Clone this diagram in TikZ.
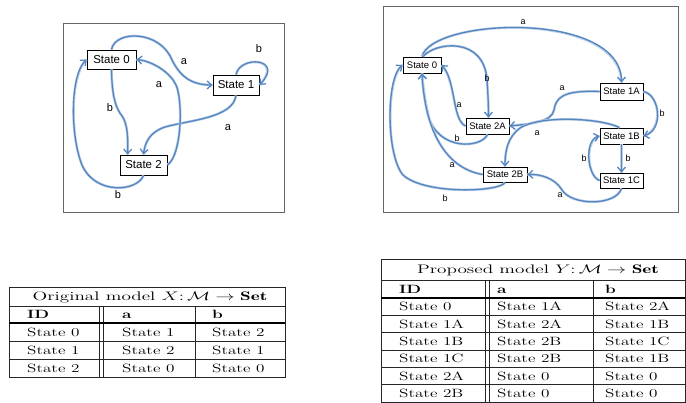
\documentclass[tikz,border=0pt]{standalone}
\usepackage{graphicx}
\usepackage{fontspec}
\newfontfamily\arialf{Liberation Sans}
\usetikzlibrary{arrows.meta}
\definecolor{edgeblue}{RGB}{84,134,194}
\definecolor{edgeglow}{RGB}{190,208,230}
\newcommand{\tbtx}[1]{\scalebox{1.43}[1]{#1}}
\newcommand{\tbcap}[1]{\scalebox{1.6}[1.03]{#1}}
\tikzset{
  st/.style={draw=black, line width=0.9pt, fill=white, inner sep=0pt},
  stl/.style={st, minimum width=48pt, minimum height=19pt, font=\arialf\fontsize{11.5}{12}\selectfont},
  str/.style={st, minimum width=43pt, minimum height=16pt, font=\arialf\fontsize{9.5}{11}\selectfont},
  edge/.style={draw=edgeblue, line width=1.3pt, -{Straight Barb[length=4.5pt,width=8pt]},
    preaction={draw=edgeglow, line width=2.6pt, -}},
  lbl/.style={font=\arialf\fontsize{11}{12}\selectfont, inner sep=0pt},
  lblr/.style={font=\arialf\fontsize{9}{10}\selectfont, inner sep=0pt},
  framebox/.style={draw=black!60, line width=1pt},
  tline/.style={draw=black!85, line width=0.7pt},
  thickline/.style={draw=black, line width=1.8pt},
  cell/.style={anchor=west, inner sep=0pt, text height=8.4pt, text depth=0pt, font=\fontsize{12}{14}\selectfont},
  capcell/.style={cell, anchor=center},
}
\begin{document}
\begin{tikzpicture}[x=1pt,y=-1pt]
\useasboundingbox (0,0) rectangle (686,403);
% ---------------- left diagram ----------------
\draw[framebox] (63,24) rectangle (284,213);
\node[stl, minimum width=49pt] (L0) at (111.5,59.5) {State 0};
\node[stl, minimum width=46pt, minimum height=20pt] (L1) at (236,85) {State 1};
\node[stl, minimum width=47pt, minimum height=20pt] (L2) at (143.5,165) {State 2};
\draw[edge] (L0.north) .. controls (115,30) and (160,30) .. (172,60) .. controls (182,80) and (195,85) .. (L1.west);
\draw[edge] (L1.north) .. controls (240,55) and (285,58) .. (L1.east);
\draw[edge] (L1.south) .. controls (233,118) and (190,120) .. (165,127) .. controls (150,132) and (145,142) .. (L2.north);
\draw[edge] (L0.south) .. controls (112,98) and (116,108) .. (122,116) .. controls (128,124) and (128,140) .. ([xshift=8pt]L2.north west);
\draw[edge] (L2.east) .. controls (182,155) and (183,100) .. (176,85) .. controls (170,72) and (152,61) .. (L0.east);
\draw[edge] (L2.south) .. controls (137,192) and (95,195) .. (82,165) .. controls (70,135) and (70,75) .. (L0.west);
\node[lbl] (la1) at (184,62) {a};
\node[lbl] (lb1) at (259,49) {b};
\node[lbl] (la2) at (159,85) {a};
\node[lbl] (lb2) at (110,108) {b};
\node[lbl] (la3) at (228,128) {a};
\node[lbl] (lb3) at (118,195) {b};
% ---------------- right diagram ----------------
\draw[framebox] (383,7) rectangle (678,213);
\node[str, minimum width=38pt] (R0) at (422,65) {State 0};
\node[str, minimum height=17pt] (R1A) at (621.5,91.5) {State 1A};
\node[str] (R2A) at (487.5,126) {State 2A};
\node[str] (R1B) at (621.5,136) {State 1B};
\node[str, minimum width=44pt, minimum height=15pt] (R2B) at (505,174.5) {State 2B};
\node[str, minimum height=15pt] (R1C) at (621.5,180.5) {State 1C};
\draw[edge] (R0.north) .. controls (432,18) and (621,10) .. (R1A.north);
\draw[edge] ([xshift=1pt]R0.north) .. controls (435,42) and (484,36) .. (487,80) .. controls (488,95) and (488.5,105) .. ([xshift=1pt]R2A.north);
\draw[edge] (R2A.west) .. controls (452,120) and (456,80) .. (R0.east);
\draw[edge] (R2A.south) .. controls (482,148) and (438,152) .. (428,115) .. controls (425,100) and (423,88) .. (R0.south);
\draw[edge] (R2B.west) .. controls (445,168) and (425,130) .. (R0.south);
\draw[edge] (R2B.south) .. controls (500,192) and (425,195) .. (403,175) .. controls (386,155) and (386,78) .. (R0.west);
\draw[edge] (R1A.west) .. controls (562,90) and (556,98) .. (554,110) .. controls (552,122) and (530,124) .. (R2A.east);
\draw[edge] (R1A.east) .. controls (660,95) and (664,130) .. (R1B.east);
\draw[edge] ([xshift=-2pt]R1B.north) .. controls (600,118) and (540,115) .. (520,128) .. controls (508,137) and (505,150) .. (R2B.north);
\draw[edge] (R1B.south) -- (R1C.north);
\draw[edge] (R1C.west) .. controls (587,176) and (584,140) .. (R1B.west);
\draw[edge] (R1C.south) .. controls (616,206) and (572,206) .. (562,190) .. controls (555,178) and (540,174) .. (R2B.east);
\node[lblr] (ra1) at (523,22) {a};
\node[lblr] (rb1) at (487,78) {b};
\node[lblr] (ra2) at (562,88) {a};
\node[lblr] (rb2) at (662,113) {b};
\node[lblr] (ra3) at (459,105) {a};
\node[lblr] (rb3) at (457,138) {b};
\node[lblr] (ra4) at (537,133) {a};
\node[lblr] (rb4) at (584,158) {b};
\node[lblr] (rb5) at (628,158) {b};
\node[lblr] (ra5) at (452,165) {a};
\node[lblr] (ra6) at (560,195) {a};
\node[lblr] (rb6) at (445,198) {b};
% ---------------- left table ----------------
\draw[tline] (9,287) rectangle (285,377);
\draw[tline] (9,306) -- (285,306);
\draw[tline] (9,341) -- (285,341);
\draw[tline] (9,359) -- (285,359);
\draw[tline] (99,306) -- (99,377);
\draw[tline] (103,306) -- (103,377);
\draw[tline] (195,306) -- (195,377);
\draw[thickline] (9,323) -- (285,323);
\node[capcell] (lcap) at (150,296.5) {\tbcap{Original model $X\colon\mathcal{M}\to\mathbf{Set}$}};
\node[cell] (lh1) at (27,314.5) {\tbtx{\textbf{ID}}};
\node[cell] (lh2) at (122,314.5) {\tbtx{\textbf{a}}};
\node[cell] (lh3) at (212,314.5) {\tbtx{\textbf{b}}};
\node[cell] (l11) at (27,332) {\tbtx{State 0}};
\node[cell] (l12) at (122,332) {\tbtx{State 1}};
\node[cell] (l13) at (212,332) {\tbtx{State 2}};
\node[cell] (l21) at (27,350) {\tbtx{State 1}};
\node[cell] (l22) at (122,350) {\tbtx{State 2}};
\node[cell] (l23) at (212,350) {\tbtx{State 1}};
\node[cell] (l31) at (27,368) {\tbtx{State 2}};
\node[cell] (l32) at (122,368) {\tbtx{State 0}};
\node[cell] (l33) at (212,368) {\tbtx{State 0}};
% ---------------- right table ----------------
\draw[tline] (381,259) rectangle (685,402);
\draw[tline] (381,280) -- (685,280);
\foreach \yy in {315.3,332.7,350,367.3,384.7} {\draw[tline] (381,\yy) -- (685,\yy);}
\draw[tline] (485,280) -- (485,402);
\draw[tline] (489,280) -- (489,402);
\draw[tline] (593,280) -- (593,402);
\draw[thickline] (381,298) -- (685,298);
\node[capcell] (rcap) at (538,269.5) {\tbcap{Proposed model $Y\colon\mathcal{M}\to\mathbf{Set}$}};
\node[cell] (rh1) at (399,289) {\tbtx{\textbf{ID}}};
\node[cell] (rh2) at (497,289) {\tbtx{\textbf{a}}};
\node[cell] (rh3) at (605,289) {\tbtx{\textbf{b}}};
\node[cell] (r11) at (399,306.7) {\tbtx{State 0}};
\node[cell] (r12) at (497,306.7) {\tbtx{State 1A}};
\node[cell] (r13) at (605,306.7) {\tbtx{State 2A}};
\node[cell] (r21) at (399,324) {\tbtx{State 1A}};
\node[cell] (r22) at (497,324) {\tbtx{State 2A}};
\node[cell] (r23) at (605,324) {\tbtx{State 1B}};
\node[cell] (r31) at (399,341.3) {\tbtx{State 1B}};
\node[cell] (r32) at (497,341.3) {\tbtx{State 2B}};
\node[cell] (r33) at (605,341.3) {\tbtx{State 1C}};
\node[cell] (r41) at (399,358.7) {\tbtx{State 1C}};
\node[cell] (r42) at (497,358.7) {\tbtx{State 2B}};
\node[cell] (r43) at (605,358.7) {\tbtx{State 1B}};
\node[cell] (r51) at (399,376) {\tbtx{State 2A}};
\node[cell] (r52) at (497,376) {\tbtx{State 0}};
\node[cell] (r53) at (605,376) {\tbtx{State 0}};
\node[cell] (r61) at (399,393.3) {\tbtx{State 2B}};
\node[cell] (r62) at (497,393.3) {\tbtx{State 0}};
\node[cell] (r63) at (605,393.3) {\tbtx{State 0}};
\end{tikzpicture}
\end{document}
